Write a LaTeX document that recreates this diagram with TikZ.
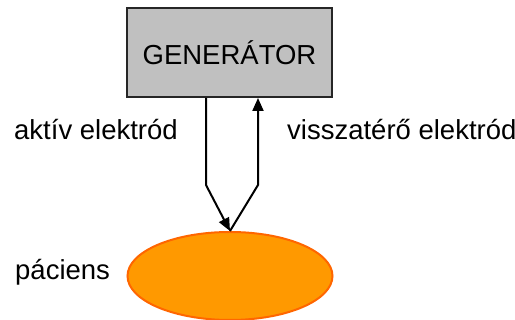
\documentclass[tikz,border=0pt]{standalone}
\usepackage{fontspec}
\setmainfont{Liberation Sans}
\usetikzlibrary{arrows.meta,shapes.geometric}
\definecolor{boxgray}{HTML}{C0C0C0}
\definecolor{patfill}{HTML}{FF9900}
\definecolor{patedge}{HTML}{FF6600}
\begin{document}
\begin{tikzpicture}[x=1pt,y=-1pt,
  lbl/.style={font=\fontsize{27.5}{31}\selectfont, inner sep=0pt},
  wire/.style={line width=2pt, line join=miter, -{Triangle[length=13pt,width=11pt]}}]
\useasboundingbox (0,0) rectangle (515,320);
\node[draw=black!85, line width=2pt, fill=boxgray, minimum width=205pt, minimum height=89pt, inner sep=0pt, font=\fontsize{27.5}{31}\selectfont] (gen) at (229.5,52.5) {GENERÁTOR};
\node[ellipse, draw=patedge, line width=2pt, fill=patfill, minimum width=205pt, minimum height=88pt, inner sep=0pt] (pat) at (230,276) {};
\node[lbl, anchor=west] (act) at (14,130) {aktív elektród};
\node[lbl, anchor=west] (ret) at (287,130) {visszatérő elektród};
\node[lbl, anchor=west] (pac) at (15,272) {páciens};
\coordinate (a1) at (206,185);
\coordinate (r1) at (258,185);
\draw[wire] (gen.south -| a1) -- (a1) -- (pat.north);
\draw[wire] (pat.north) -- (r1) -- (gen.south -| r1);
\end{tikzpicture}
\end{document}
